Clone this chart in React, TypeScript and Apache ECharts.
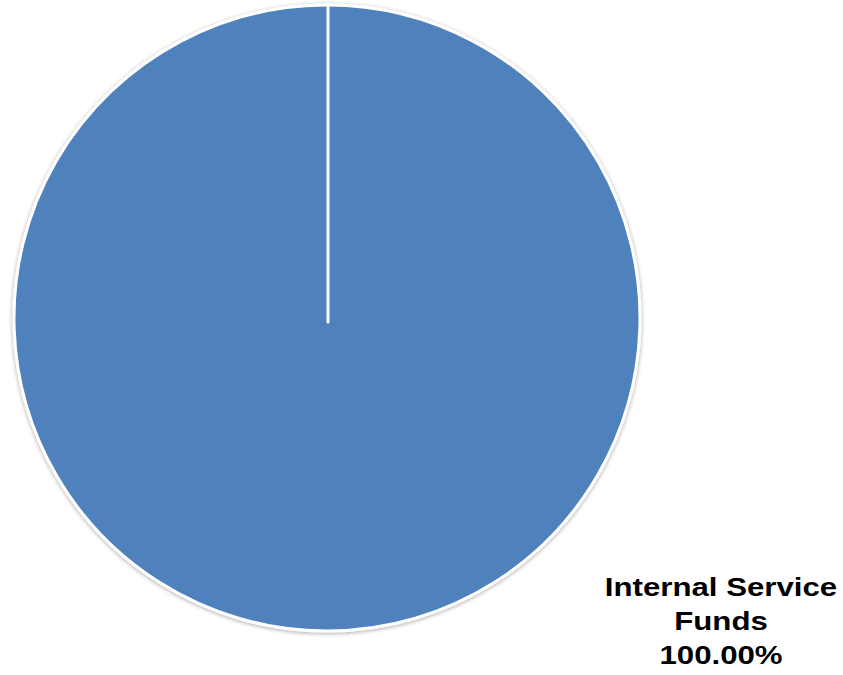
import React, { useEffect, useRef } from "react";
import * as echarts from "echarts";

const categories = ["Internal Service Funds"];
const values = [100];

export default function App() {
  const ref = useRef<HTMLDivElement>(null);
  useEffect(() => {
    if (!ref.current) return;
    const chart = echarts.init(ref.current, null, { renderer: "svg" });
    const cx = 327;
    const cy = 318;
    const r = 313;
    const total = values.reduce((a, b) => a + b, 0);
    const data = categories.map((name, i) => ({ name, value: values[i] }));
    const labelText = data
      .map((d) => `Internal Service\nFunds\n${((d.value / total) * 100).toFixed(2)}%`)
      .join("\n");
    chart.setOption({
      animation: false,
      backgroundColor: "#ffffff",
      series: [
        {
          type: "pie",
          center: [cx, cy],
          radius: r,
          startAngle: 90,
          clockwise: true,
          data,
          label: { show: false },
          labelLine: { show: false },
          emphasis: { disabled: true },
          silent: true,
          itemStyle: {
            color: "#4F81BD",
            borderColor: "#ffffff",
            borderWidth: 3,
            shadowBlur: 4,
            shadowColor: "rgba(0,0,0,0.35)",
            shadowOffsetX: 0,
            shadowOffsetY: 1,
          },
        },
      ],
      graphic: [
        {
          type: "line",
          silent: true,
          z: 10,
          shape: { x1: cx + 1, y1: cy + 4, x2: cx + 1, y2: cy - r },
          style: { stroke: "#ffffff", lineWidth: 3, lineCap: "round" },
        },
        {
          type: "text",
          x: 721,
          y: 570,
          z: 10,
          scaleX: 1.2,
          style: {
            text: labelText,
            fontFamily: "Liberation Sans, Arial, sans-serif",
            fontWeight: "bold",
            fontSize: 26,
            lineHeight: 34,
            fill: "#000000",
            align: "center",
            textAlign: "center",
          },
        },
      ],
    });
    return () => chart.dispose();
  }, []);
  return (
    <div
      ref={ref}
      style={{ position: "fixed", left: 0, top: 0, width: 843, height: 675 }}
    />
  );
}
